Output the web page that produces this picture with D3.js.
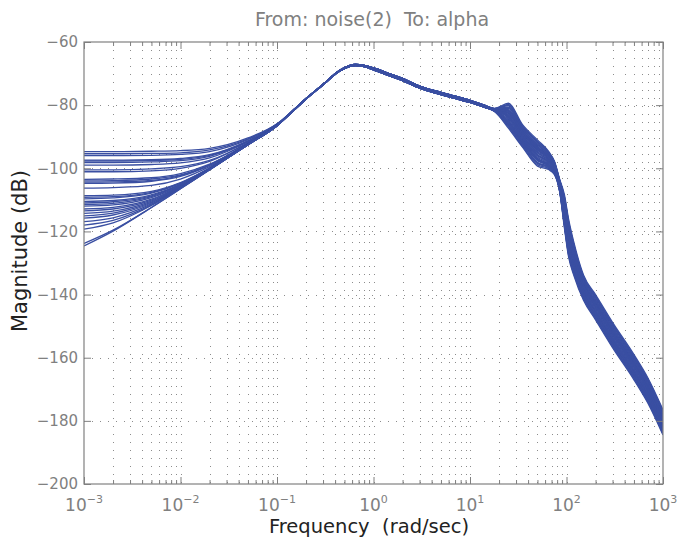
<!DOCTYPE html>
<html>
<head>
<meta charset="utf-8">
<script src="https://cdn.jsdelivr.net/npm/d3@7"></script>
<style>
  body { margin: 0; background: #fff; }
  svg { display: block; font-family: "DejaVu Sans", sans-serif; }
  text { white-space: pre; }
</style>
</head>
<body>
<div id="chart"></div>
<script>
// frequency samples (rad/sec) for each band of the curves
const freqLow = [0.001, 0.002, 0.005, 0.01, 0.02, 0.05, 0.1];
const freqMid = [0.15, 0.2, 0.3, 0.45, 0.65, 0.8, 1, 1.5, 2, 3, 5, 7, 10, 14];
const freqRes = [18, 25, 35, 50, 65, 75];
const freqRoll = [85, 95, 105, 120, 150, 200, 300, 500, 700, 1000];

// magnitude (dB), one row per model in the family
const magLow = [
  [-94.7, -94.7, -94.6, -94.4, -93.7, -90.4, -85.9],
  [-95.4, -95.4, -95.3, -95.1, -94.2, -90.7, -86.0],
  [-96.0, -96.0, -95.9, -95.6, -94.7, -90.9, -86.0],
  [-97.4, -97.4, -97.3, -96.9, -95.7, -91.3, -86.2],
  [-97.7, -97.7, -97.6, -97.2, -95.9, -91.4, -86.2],
  [-98.2, -98.2, -98.0, -97.6, -96.2, -91.5, -86.2],
  [-99.0, -99.0, -98.8, -98.3, -96.7, -91.6, -86.3],
  [-100.5, -100.5, -100.2, -99.5, -97.5, -91.9, -86.3],
  [-101.1, -101.1, -100.8, -100.0, -97.8, -91.9, -86.4],
  [-103.5, -103.4, -103.0, -101.7, -98.7, -92.2, -86.4],
  [-104.0, -103.9, -103.4, -102.1, -98.9, -92.2, -86.4],
  [-104.4, -104.3, -103.8, -102.3, -99.0, -92.2, -86.4],
  [-104.8, -104.7, -104.1, -102.6, -99.1, -92.3, -86.4],
  [-106.3, -106.1, -105.4, -103.4, -99.5, -92.3, -86.5],
  [-108.7, -108.5, -107.3, -104.5, -99.9, -92.4, -86.5],
  [-109.2, -109.0, -107.6, -104.7, -100.0, -92.4, -86.5],
  [-109.7, -109.4, -107.9, -104.8, -100.0, -92.4, -86.5],
  [-110.5, -110.2, -108.4, -105.1, -100.1, -92.4, -86.5],
  [-111.0, -110.6, -108.7, -105.2, -100.1, -92.4, -86.5],
  [-111.5, -111.1, -109.0, -105.3, -100.2, -92.4, -86.5],
  [-112.0, -111.6, -109.3, -105.5, -100.2, -92.5, -86.5],
  [-112.9, -112.4, -109.8, -105.6, -100.3, -92.5, -86.5],
  [-113.5, -112.9, -110.1, -105.7, -100.3, -92.5, -86.5],
  [-114.3, -113.6, -110.4, -105.9, -100.3, -92.5, -86.5],
  [-115.1, -114.2, -110.7, -106.0, -100.4, -92.5, -86.5],
  [-115.8, -114.8, -111.0, -106.1, -100.4, -92.5, -86.5],
  [-116.9, -115.7, -111.3, -106.2, -100.4, -92.5, -86.5],
  [-118.0, -116.5, -111.6, -106.2, -100.4, -92.5, -86.5],
  [-119.3, -117.3, -111.8, -106.3, -100.4, -92.5, -86.5],
  [-123.8, -119.6, -112.4, -106.5, -100.5, -92.5, -86.5],
  [-124.6, -119.9, -112.4, -106.5, -100.5, -92.5, -86.5],
];

// the models nearly share one shape around the peak: upper, centre and lower edge of that band
const magMid = [
  [-81.4, -77.9, -73.4, -68.85, -67.1, -67.4, -68.2, -70.15, -71.55, -73.95, -75.95, -77.15, -78.45, -80.0],
  [-81.5, -78.0, -73.5, -69.0, -67.3, -67.6, -68.5, -70.5, -71.9, -74.3, -76.3, -77.5, -78.8, -80.3],
  [-81.6, -78.1, -73.6, -69.15, -67.5, -67.8, -68.8, -70.85, -72.25, -74.65, -76.65, -77.85, -79.15, -80.6],
];
// which of those edges each model follows
const midRow = [0, 1, 0, 2, 2, 1, 0, 2, 0, 2, 1, 0, 2, 1, 2, 0, 1, 1, 0, 2, 1, 0, 2, 1, 0, 2, 1, 0, 1, 1, 2];

const magRes = [
  [-81.3, -81.8, -88.3, -93.5, -96.3, -99.1],
  [-81.8, -85.7, -91.9, -97.6, -99.2, -101.2],
  [-81.1, -80.2, -86.9, -91.8, -95.2, -98.2],
  [-81.6, -84.1, -90.5, -96.0, -98.1, -100.3],
  [-82.0, -86.9, -93.0, -98.9, -100.1, -101.8],
  [-81.4, -82.6, -89.0, -94.3, -96.9, -99.5],
  [-81.0, -79.4, -86.2, -91.0, -94.6, -97.8],
  [-81.7, -84.9, -91.2, -96.8, -98.7, -100.7],
  [-81.2, -81.0, -87.6, -92.7, -95.8, -98.6],
  [-81.9, -86.1, -92.2, -98.1, -99.5, -101.4],
  [-81.5, -83.4, -89.8, -95.2, -97.5, -99.9],
  [-81.1, -79.8, -86.6, -91.4, -94.9, -98.0],
  [-81.7, -84.5, -90.8, -96.4, -98.4, -100.5],
  [-81.4, -82.2, -88.7, -93.9, -96.6, -99.3],
  [-82.0, -87.3, -93.3, -99.3, -100.4, -102.0],
  [-81.3, -81.4, -88.0, -93.1, -96.1, -98.9],
  [-81.8, -85.3, -91.5, -97.2, -98.9, -101.0],
  [-81.5, -82.9, -89.4, -94.7, -97.2, -99.7],
  [-81.2, -80.6, -87.3, -92.2, -95.5, -98.4],
  [-81.9, -86.5, -92.6, -98.5, -99.8, -101.6],
  [-81.6, -83.7, -90.1, -95.6, -97.8, -100.1],
  [-81.3, -81.7, -88.2, -93.3, -96.2, -99.0],
  [-81.7, -85.0, -91.3, -96.9, -98.8, -100.8],
  [-81.4, -82.4, -88.9, -94.1, -96.8, -99.4],
  [-81.1, -80.0, -86.7, -91.6, -95.0, -98.1],
  [-81.8, -85.5, -91.7, -97.4, -99.1, -101.1],
  [-81.5, -83.2, -89.6, -95.0, -97.4, -99.8],
  [-81.2, -80.8, -87.5, -92.5, -95.7, -98.5],
  [-81.6, -83.9, -90.3, -95.8, -98.0, -100.2],
  [-81.4, -82.0, -88.5, -93.7, -96.5, -99.2],
  [-81.9, -86.3, -92.4, -98.3, -99.6, -101.5],
];

const magRoll = [
  [-104.8, -111.6, -119.8, -127.1, -136.3, -142.5, -151.3, -161.5, -169.0, -179.0],
  [-106.8, -116.8, -125.8, -132.3, -140.3, -146.5, -155.3, -165.5, -173.0, -183.0],
  [-103.8, -109.0, -116.8, -124.5, -134.3, -140.5, -149.3, -159.5, -167.0, -177.0],
  [-106.0, -114.8, -123.5, -130.3, -138.8, -145.0, -153.8, -164.0, -171.5, -181.5],
  [-107.5, -118.7, -128.0, -134.2, -141.8, -148.0, -156.8, -167.0, -174.5, -184.5],
  [-105.3, -112.9, -121.3, -128.4, -137.3, -143.5, -152.3, -162.5, -170.0, -180.0],
  [-103.5, -108.3, -116.0, -123.8, -133.8, -140.0, -148.8, -159.0, -166.5, -176.5],
  [-106.5, -116.1, -125.0, -131.6, -139.8, -146.0, -154.8, -165.0, -172.5, -182.5],
  [-104.3, -110.3, -118.3, -125.8, -135.3, -141.5, -150.3, -160.5, -168.0, -178.0],
  [-107.0, -117.4, -126.5, -132.9, -140.8, -147.0, -155.8, -166.0, -173.5, -183.5],
  [-105.5, -113.5, -122.0, -129.0, -137.8, -144.0, -152.8, -163.0, -170.5, -180.5],
  [-104.0, -109.6, -117.5, -125.1, -134.8, -141.0, -149.8, -160.0, -167.5, -177.5],
  [-106.3, -115.5, -124.3, -131.0, -139.3, -145.5, -154.3, -164.5, -172.0, -182.0],
  [-105.0, -112.2, -120.5, -127.7, -136.8, -143.0, -151.8, -162.0, -169.5, -179.5],
  [-107.3, -118.1, -127.3, -133.6, -141.3, -147.5, -156.3, -166.5, -174.0, -184.0],
  [-104.5, -110.9, -119.0, -126.4, -135.8, -142.0, -150.8, -161.0, -168.5, -178.5],
  [-106.8, -116.8, -125.8, -132.3, -140.3, -146.5, -155.3, -165.5, -173.0, -183.0],
  [-105.3, -112.9, -121.3, -128.4, -137.3, -143.5, -152.3, -162.5, -170.0, -180.0],
  [-104.0, -109.6, -117.5, -125.1, -134.8, -141.0, -149.8, -160.0, -167.5, -177.5],
  [-107.3, -118.1, -127.3, -133.6, -141.3, -147.5, -156.3, -166.5, -174.0, -184.0],
  [-105.8, -114.2, -122.8, -129.7, -138.3, -144.5, -153.3, -163.5, -171.0, -181.0],
  [-104.8, -111.6, -119.8, -127.1, -136.3, -142.5, -151.3, -161.5, -169.0, -179.0],
  [-106.3, -115.5, -124.3, -131.0, -139.3, -145.5, -154.3, -164.5, -172.0, -182.0],
  [-105.0, -112.2, -120.5, -127.7, -136.8, -143.0, -151.8, -162.0, -169.5, -179.5],
  [-103.8, -109.0, -116.8, -124.5, -134.3, -140.5, -149.3, -159.5, -167.0, -177.0],
  [-107.0, -117.4, -126.5, -132.9, -140.8, -147.0, -155.8, -166.0, -173.5, -183.5],
  [-105.5, -113.5, -122.0, -129.0, -137.8, -144.0, -152.8, -163.0, -170.5, -180.5],
  [-104.5, -110.9, -119.0, -126.4, -135.8, -142.0, -150.8, -161.0, -168.5, -178.5],
  [-106.0, -114.8, -123.5, -130.3, -138.8, -145.0, -153.8, -164.0, -171.5, -181.5],
  [-105.3, -112.9, -121.3, -128.4, -137.3, -143.5, -152.3, -162.5, -170.0, -180.0],
  [-106.5, -116.1, -125.0, -131.6, -139.8, -146.0, -154.8, -165.0, -172.5, -182.5],
];

const x_domain = [1e-3, 1e3];
const y_domain = [-200, -60];
const decade_ticks = [1e-3, 1e-2, 1e-1, 1e0, 1e1, 1e2, 1e3];
const y_ticks = [-200, -180, -160, -140, -120, -100, -80, -60];

const title_text = "From: noise(2)  To: alpha";
const x_label_text = "Frequency  (rad/sec)";
const y_label_text = "Magnitude (dB)";

const svg_width = 677;
const svg_height = 541;
const margins = [42, 14, 57, 84]; //top, right, bottom, left

const axis_color = "#808080";
const line_color = "#3a4fa2";

let svg, x_axis, y_axis;

function buildCurves() {
  return magLow.map((low, i) => {
    const pts = [];
    freqLow.forEach((f, j) => pts.push([f, low[j]]));
    freqMid.forEach((f, j) => pts.push([f, magMid[midRow[i]][j]]));
    freqRes.forEach((f, j) => pts.push([f, magRes[i][j]]));
    freqRoll.forEach((f, j) => pts.push([f, magRoll[i][j]]));
    return pts;
  });
}

function drawGrid() {
  const [margin_top, margin_right, margin_bottom, margin_left] = margins;
  const grid = svg.append("g").attr("class", "grid");
  const minor = x_axis.ticks().filter((d) => d > x_domain[0] && d < x_domain[1]);

  grid
    .selectAll("line.vgrid")
    .data(minor)
    .join("line")
    .attr("class", "vgrid")
    .attr("x1", (d) => Math.round(x_axis(d)) + 0.5)
    .attr("x2", (d) => Math.round(x_axis(d)) + 0.5)
    .attr("y1", margin_top)
    .attr("y2", svg_height - margin_bottom)
    .attr("stroke", "#8c8c8c")
    .attr("stroke-width", 1)
    .attr("stroke-dasharray", "1,7");

  grid
    .selectAll("line.hgrid")
    .data(y_ticks.slice(1, -1))
    .join("line")
    .attr("class", "hgrid")
    .attr("x1", margin_left)
    .attr("x2", svg_width - margin_right)
    .attr("y1", (d) => Math.round(y_axis(d)) + 0.5)
    .attr("y2", (d) => Math.round(y_axis(d)) + 0.5)
    .attr("stroke", "#8c8c8c")
    .attr("stroke-width", 1)
    .attr("stroke-dasharray", "1,7");
}

function drawAxes() {
  const [margin_top, margin_right, margin_bottom, margin_left] = margins;
  const minor = x_axis.ticks().filter((d) => !decade_ticks.includes(d));

  const styleAxis = (g) => {
    g.select(".domain").remove();
    g.selectAll(".tick line").attr("stroke", axis_color);
    g.selectAll(".tick text").attr("fill", axis_color);
  };

  // bottom / top major + minor ticks (inward)
  svg.append("g")
    .attr("transform", `translate(0,${svg_height - margin_bottom})`)
    .call(d3.axisBottom(x_axis).tickValues(decade_ticks).tickSize(-7).tickFormat(""))
    .call(styleAxis);
  svg.append("g")
    .attr("transform", `translate(0,${svg_height - margin_bottom})`)
    .call(d3.axisBottom(x_axis).tickValues(minor).tickSize(-4).tickFormat(""))
    .call(styleAxis);
  svg.append("g")
    .attr("transform", `translate(0,${margin_top})`)
    .call(d3.axisTop(x_axis).tickValues(decade_ticks).tickSize(-7).tickFormat(""))
    .call(styleAxis);
  svg.append("g")
    .attr("transform", `translate(0,${margin_top})`)
    .call(d3.axisTop(x_axis).tickValues(minor).tickSize(-4).tickFormat(""))
    .call(styleAxis);

  // left / right ticks
  svg.append("g")
    .attr("transform", `translate(${margin_left},0)`)
    .call(d3.axisLeft(y_axis).tickValues(y_ticks).tickSize(-7).tickPadding(6))
    .call(styleAxis)
    .call((g) => g.selectAll(".tick text").attr("font-size", 15).attr("font-family", "DejaVu Sans"));
  svg.append("g")
    .attr("transform", `translate(${svg_width - margin_right},0)`)
    .call(d3.axisRight(y_axis).tickValues(y_ticks).tickSize(-7).tickFormat(""))
    .call(styleAxis);

  // x tick labels as 10^n
  const labels = svg.append("g").attr("fill", axis_color);
  decade_ticks.forEach((d) => {
    const exp = Math.round(Math.log10(d));
    const t = labels.append("text")
      .attr("x", x_axis(d))
      .attr("y", svg_height - margin_bottom + 27)
      .attr("text-anchor", "middle")
      .attr("font-size", 17);
    t.append("tspan").text("10");
    t.append("tspan")
      .attr("dy", -8)
      .attr("font-size", 11)
      .text(exp < 0 ? "\u2212" + Math.abs(exp) : String(exp));
  });

  // box
  svg.append("rect")
    .attr("x", margin_left)
    .attr("y", margin_top)
    .attr("width", svg_width - margin_left - margin_right)
    .attr("height", svg_height - margin_top - margin_bottom)
    .attr("fill", "none")
    .attr("stroke", axis_color)
    .attr("stroke-width", 1.2);
}

function drawCurves() {
  const [margin_top, margin_right, margin_bottom, margin_left] = margins;
  svg.append("clipPath")
    .attr("id", "plot_clip")
    .append("rect")
    .attr("x", margin_left)
    .attr("y", margin_top)
    .attr("width", svg_width - margin_left - margin_right)
    .attr("height", svg_height - margin_top - margin_bottom);

  const line = d3.line()
    .x((d) => x_axis(d[0]))
    .y((d) => y_axis(d[1]))
    .curve(d3.curveMonotoneX);

  svg.append("g")
    .attr("clip-path", "url(#plot_clip)")
    .selectAll("path")
    .data(buildCurves())
    .join("path")
    .attr("fill", "none")
    .attr("stroke", line_color)
    .attr("stroke-width", 1.3)
    .attr("d", line);
}

function drawLabels() {
  svg.append("text")
    .attr("x", 372)
    .attr("y", 26)
    .attr("text-anchor", "middle")
    .attr("font-size", 19)
    .attr("fill", axis_color)
    .text(title_text);

  svg.append("text")
    .attr("x", 369)
    .attr("y", 533)
    .attr("text-anchor", "middle")
    .attr("font-size", 19.5)
    .attr("fill", "#222")
    .text(x_label_text);

  svg.append("text")
    .attr("transform", "rotate(-90)")
    .attr("x", -251)
    .attr("y", 27)
    .attr("text-anchor", "middle")
    .attr("font-size", 21)
    .attr("fill", "#222")
    .text(y_label_text);
}

function initialize() {
  const [margin_top, margin_right, margin_bottom, margin_left] = margins;
  svg = d3.select("#chart")
    .append("svg")
    .attr("width", svg_width)
    .attr("height", svg_height);

  x_axis = d3.scaleLog().domain(x_domain).range([margin_left, svg_width - margin_right]);
  y_axis = d3.scaleLinear().domain(y_domain).range([svg_height - margin_bottom, margin_top]);

  drawGrid();
  drawCurves();
  drawAxes();
  drawLabels();
}

initialize();
</script>
</body>
</html>
